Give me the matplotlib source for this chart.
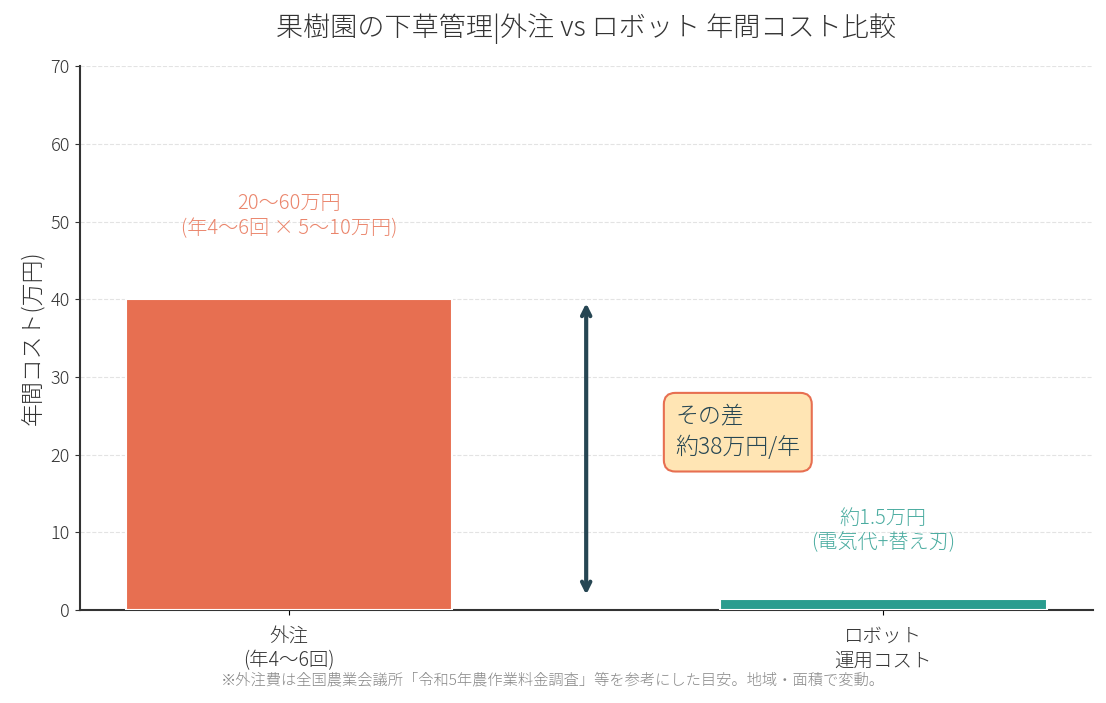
import matplotlib
matplotlib.use('Agg')
import matplotlib.pyplot as plt

plt.rcParams['font.family'] = ['Noto Sans CJK JP', 'DejaVu Sans']
plt.rcParams['font.weight'] = 'light'
plt.rcParams['axes.titleweight'] = 'light'
plt.rcParams['axes.labelweight'] = 'light'

# data
categories = ['外注\n(年4〜6回)', 'ロボット\n運用コスト']
costs = [40, 1.5]
bar_colors = ['#E76F51', '#2A9D8F']
bar_notes = ['20〜60万円\n(年4〜6回 × 5〜10万円)', '約1.5万円\n(電気代+替え刃)']
note_offsets = [7.8, 5.8]
diff_text = 'その差\n約38万円/年'
footnote = '※外注費は全国農業会議所「令和5年農作業料金調査」等を参考にした目安。地域・面積で変動。'

fig, ax = plt.subplots(figsize=(11.06, 7.03), dpi=100)
x = range(len(categories))
ax.bar(x, costs, width=0.55, color=bar_colors, edgecolor='white', linewidth=1.5, zorder=3)

for i, (v, note) in enumerate(zip(costs, bar_notes)):
    ax.text(i, v + note_offsets[i], note, ha='center', va='bottom',
            fontsize=14.5, color=bar_colors[i], alpha=0.85, linespacing=1.2)

# difference arrow
ax.annotate('', xy=(0.5, costs[1] + 0.5), xytext=(0.5, costs[0] - 0.5),
            arrowprops=dict(arrowstyle='<->', color='#264653', lw=3,
                            mutation_scale=15, shrinkA=0, shrinkB=0))
ax.text(0.65, 22.9, diff_text, ha='left', va='center', fontsize=16.5,
        color='#264653', linespacing=1.3,
        bbox=dict(boxstyle='round,pad=0.5', facecolor='#FFE5B4',
                  edgecolor='#E76F51', linewidth=1.5))

ax.set_ylim(0, 70)
ax.set_xticks(list(x))
ax.set_xticklabels(categories, fontsize=14, color='#333333', linespacing=1.2)
ax.tick_params(axis='x', pad=8)
ax.tick_params(axis='y', labelsize=13, colors='#333333')
ax.set_ylabel('年間コスト(万円)', fontsize=16.5, color='#333333')
ax.set_title('果樹園の下草管理|外注 vs ロボット 年間コスト比較', fontsize=19.5,
             color='#333333', pad=22)
ax.grid(axis='y', linestyle='--', color='#dddddd', alpha=0.8, zorder=0)
ax.set_axisbelow(True)
for s in ['top', 'right']:
    ax.spines[s].set_visible(False)
for s in ['left', 'bottom']:
    ax.spines[s].set_linewidth(1.5)
    ax.spines[s].set_color('#333333')

fig.text(0.5, 0.026, footnote, ha='center', fontsize=11, color='#888888')
fig.subplots_adjust(left=0.072, right=0.988, top=0.906, bottom=0.132)
fig.savefig('out.png', dpi=100)
